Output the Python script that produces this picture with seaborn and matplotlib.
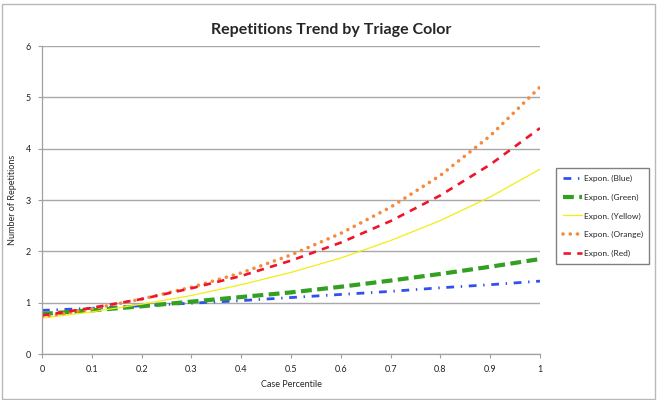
import matplotlib
matplotlib.use("Agg")
import pandas as pd
import seaborn as sns
import matplotlib.pyplot as plt
from matplotlib.patches import Rectangle

# trendline values at each 0.1 step
percentile = [0.0, 0.1, 0.2, 0.3, 0.4, 0.5, 0.6, 0.7, 0.8, 0.9, 1.0]
blue = [0.85, 0.89, 0.94, 0.99, 1.04, 1.10, 1.16, 1.22, 1.29, 1.35, 1.42]
green = [0.78, 0.85, 0.93, 1.02, 1.11, 1.20, 1.31, 1.43, 1.56, 1.70, 1.85]
yellow = [0.70, 0.82, 0.97, 1.14, 1.35, 1.59, 1.87, 2.21, 2.60, 3.06, 3.60]
orange = [0.72, 0.88, 1.07, 1.30, 1.58, 1.93, 2.35, 2.86, 3.48, 4.25, 5.20]
red = [0.75, 0.90, 1.07, 1.28, 1.52, 1.82, 2.17, 2.59, 3.09, 3.69, 4.40]

series = ["Expon. (Blue)", "Expon. (Green)", "Expon. (Yellow)", "Expon. (Orange)", "Expon. (Red)"]

df = pd.DataFrame({"x": percentile * 5,
                   "y": blue + green + yellow + orange + red,
                   "series": sum([[s] * len(percentile) for s in series], [])})

sns.set_style("white")
plt.rcParams['font.family'] = ['Lato', 'DejaVu Sans']

colors = {"Expon. (Blue)": "#3050f0", "Expon. (Green)": "#32a020",
          "Expon. (Yellow)": "#f2ee10", "Expon. (Orange)": "#f58a3c",
          "Expon. (Red)": "#f0142a"}
styles = {"Expon. (Blue)": dict(lw=2.0, dashes=(2.8, 2.4, 0.5, 2.4)),
          "Expon. (Green)": dict(lw=3.0, dashes=(2.6, 1.3)),
          "Expon. (Yellow)": dict(lw=0.9),
          "Expon. (Orange)": dict(lw=2.6, dashes=(0.01, 2.0), dash_capstyle="round"),
          "Expon. (Red)": dict(lw=1.9, dashes=(2.8, 2.4))}

fig = plt.figure(figsize=(6.63, 4.0), dpi=100)
ax = fig.add_axes([42 / 663, 1 - 354 / 400, 498 / 663, 308 / 400])

handles = []
for s in series:
    sub = df[df["series"] == s]
    sns.lineplot(data=sub, x="x", y="y", ax=ax, color=colors[s], label=s,
                 legend=False)
    line = ax.lines[-1]
    st = styles[s]
    line.set_linewidth(st["lw"])
    if "dashes" in st:
        line.set_dashes(st["dashes"])
    if "dash_capstyle" in st:
        line.set_dash_capstyle(st["dash_capstyle"])
    handles.append(line)

ax.set_xlim(0, 1)
ax.set_ylim(0, 6)
ax.set_xticks([i / 10 for i in range(11)])
ax.set_xticklabels(["0", "0.1", "0.2", "0.3", "0.4", "0.5", "0.6", "0.7", "0.8", "0.9", "1"])
ax.set_yticks(range(7))
ax.yaxis.grid(True, color="#a8a8a8", lw=1)
ax.set_axisbelow(True)
ax.tick_params(axis="both", labelsize=6.5, colors="#222222", length=3, width=0.8,
               direction="out", pad=5)
ax.tick_params(axis="both", color="#a0a0a0")
ax.xaxis.set_ticks_position("bottom")
ax.yaxis.set_ticks_position("left")
for side in ["top", "right"]:
    ax.spines[side].set_visible(False)
for side in ["left", "bottom"]:
    ax.spines[side].set_color("#a0a0a0")
    ax.spines[side].set_linewidth(0.9)

ax.set_xlabel("Case Percentile", fontsize=6.5, labelpad=4)
ax.set_ylabel("Number of Repetitions", fontsize=6.5, labelpad=6)
fig.suptitle("Repetitions Trend by Triage Color", fontsize=11.5, fontweight="bold",
             y=1 - 30 / 400, va="center")

fig.legend(handles=handles, labels=series, loc="upper left",
           bbox_to_anchor=(556 / 663, 1 - 168 / 400), frameon=True, fancybox=False,
           edgecolor="#606060", fontsize=6.0, handlelength=2.3, handletextpad=0.2,
           labelspacing=1.4, borderpad=0.8, borderaxespad=0)

# outer chart border
fig.patches.append(Rectangle((0.003, 0.003), 1 - 10 / 663, 1 - 0.013, transform=fig.transFigure,
                             fill=False, edgecolor="#b8b8b8", lw=1))

fig.savefig("out.png", dpi=100)
